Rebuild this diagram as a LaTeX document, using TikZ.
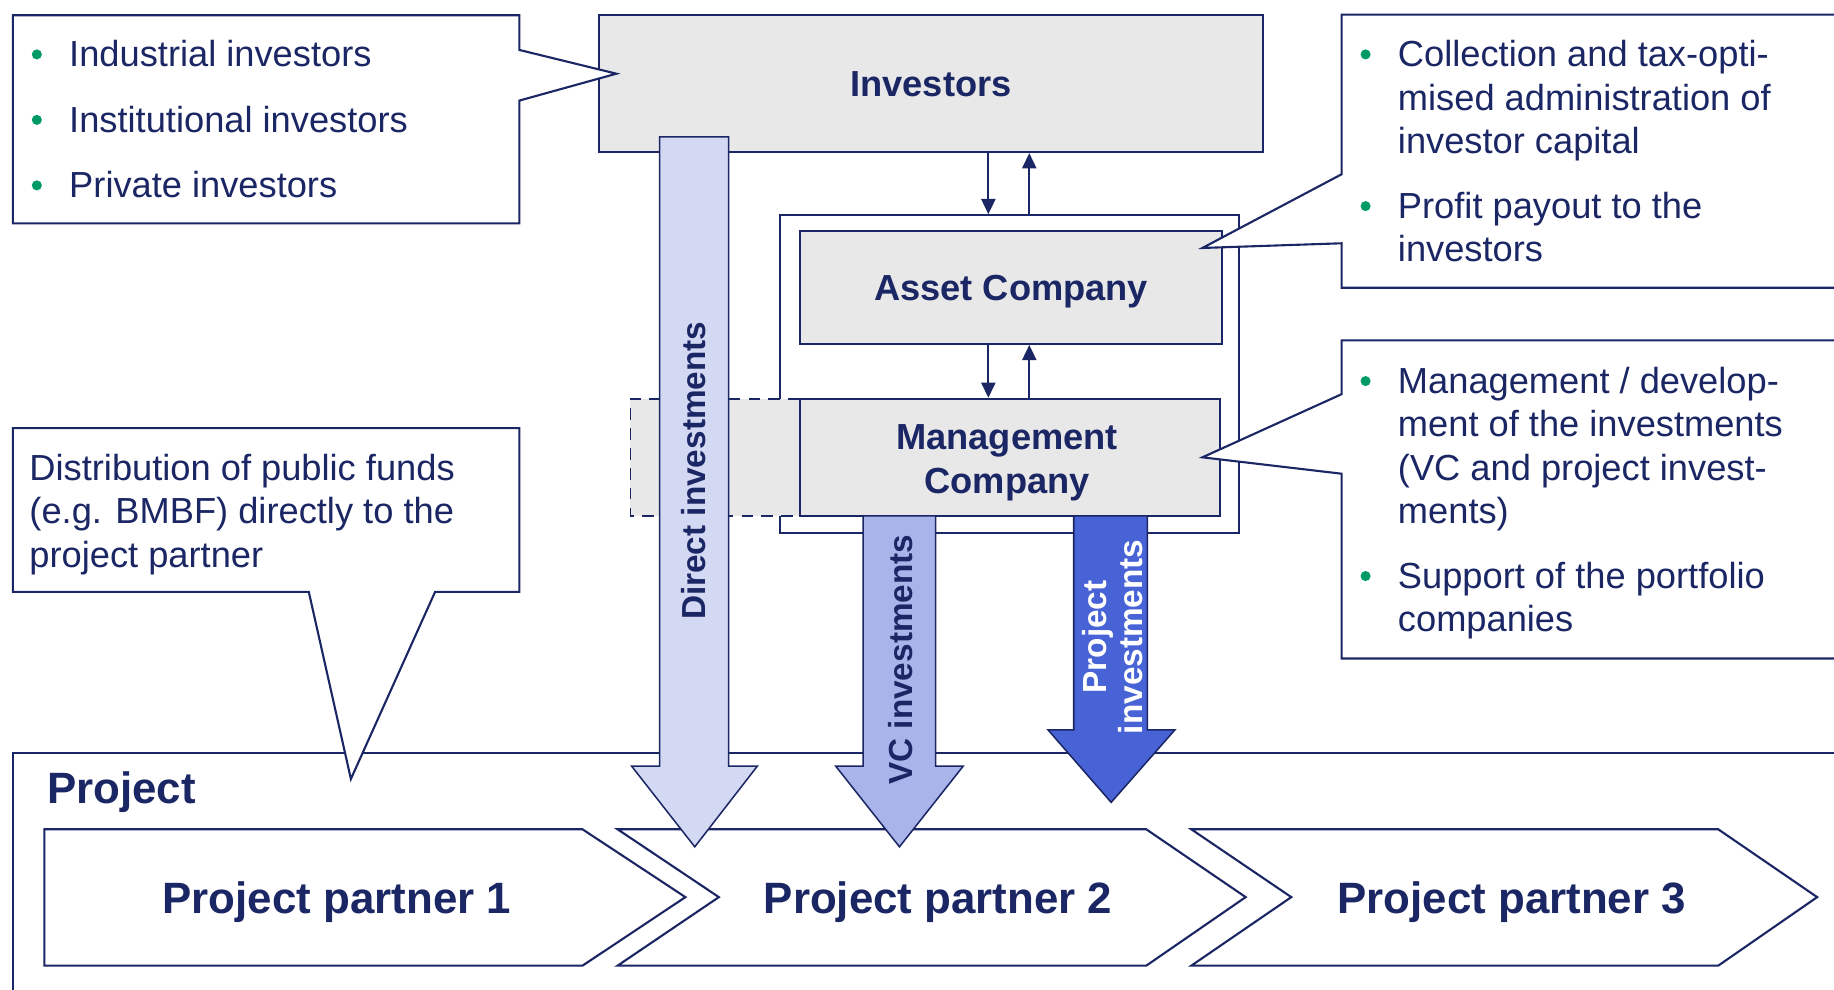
\documentclass[tikz,border=0pt]{standalone}
\usepackage{fontspec}
\setmainfont{Liberation Sans}
\usetikzlibrary{arrows.meta}
\definecolor{navy}{HTML}{1B2664}
\definecolor{boxgray}{HTML}{E8E8E8}
\definecolor{directc}{HTML}{D3D9F3}
\definecolor{vcc}{HTML}{A9B5EA}
\definecolor{projc}{HTML}{4863D5}
\definecolor{bulletc}{HTML}{009A66}
\newcommand{\lftlines}[1]{\vtop{\hsize=500pt\parindent=0pt\raggedright\noindent #1\par}}
\newcommand{\ctrlines}[1]{\vtop{\hsize=300pt\parindent=0pt\centering #1\par}}
\tikzset{
  ln/.style={draw=navy, line width=1.8pt},
  dashln/.style={draw=navy, line width=1.6pt, dash pattern=on 10pt off 7pt},
  graybox/.style={ln, fill=boxgray, rectangle, inner sep=0pt, text depth=0pt, text=navy,
    font=\bfseries\fontsize{31}{37.5}\selectfont},
  boldlbl/.style={inner sep=0pt, text=navy, font=\bfseries\fontsize{31}{37.8}\selectfont},
  bigtxt/.style={inner sep=0pt, text=navy, font=\bfseries\fontsize{37.5}{45}\selectfont},
  arrtxt/.style={inner sep=0pt, text=navy, font=\bfseries\fontsize{28.5}{31}\selectfont},
  body/.style={inner sep=0pt, text=navy, anchor=base west, font=\fontsize{31}{37.2}\selectfont},
  bigar/.style={draw=navy, line width=1.3pt, line join=miter},
  sarr/.style={draw=navy, line width=1.8pt, -{Triangle[length=13pt,width=12pt]}},
  bul/.style={fill=bulletc},
}
\begin{document}
\begin{tikzpicture}[x=1pt,y=-1pt, line join=miter]
\useasboundingbox (0,0) rectangle (1568,846);
\clip (0,0) rectangle (1568,846);

% Project frame
\draw[ln] (1572,643.5) -- (11,643.5) -- (11,850);
\node[bigtxt, anchor=base west] (projlbl) at (40,687) {Project};

% Chevrons
\draw[ln, fill=white] (38,709) -- (498,709) -- (586,767) -- (498,825.6) -- (38,825.6) -- cycle;
\draw[ln, fill=white] (528,709) -- (980,709) -- (1065,767) -- (980,825.6) -- (528,825.6) -- (614.6,767) -- cycle;
\draw[ln, fill=white] (1018.5,709) -- (1469,709) -- (1553.6,767) -- (1469,825.6) -- (1018.5,825.6) -- (1104,767) -- cycle;
\node[bigtxt, anchor=base] (pp1) at (288,781) {Project partner 1};
\node[bigtxt, anchor=base] (pp2) at (802,781) {Project partner 2};
\node[bigtxt, anchor=base] (pp3) at (1292.5,781) {Project partner 3};

% Investors and companies
\node[graybox, minimum width=568pt, minimum height=117pt] (inv) at (796,71.5) {Investors};
\node[ln, fill=white, rectangle, inner sep=0pt, minimum width=392pt, minimum height=271.5pt] (cont) at (863,319.75) {};
\fill[boxgray] (539,341) rectangle (684,441);
\draw[dashln] (684,341) -- (539,341) -- (539,441) -- (684,441);
\node[graybox, minimum width=361pt, minimum height=96.5pt] (asset) at (864.5,245.75) {Asset Company};
\node[graybox, minimum width=359pt, minimum height=100pt] (mgmt) at (863.5,391) {};
\node[boldlbl, anchor=base] (mgmtT) at (861,384) {\ctrlines{Management\\Company}};

% small arrows
\coordinate (cdn) at (845,0);
\coordinate (cup) at (880,0);
\draw[sarr] (cdn |- inv.south) -- (cdn |- cont.north);
\draw[sarr] (cup |- cont.north) -- (cup |- inv.south);
\draw[sarr] (cdn |- asset.south) -- (cdn |- mgmt.north);
\draw[sarr] (cup |- mgmt.north) -- (cup |- asset.south);

% big arrows
\draw[bigar, fill=directc] (564,117) -- (623,117) -- (623,655) -- (647.5,655) -- (594,724) -- (540,655) -- (564,655) -- cycle;
\node[arrtxt, rotate=90, anchor=base] (dtxt) at (603.5,402.5) {Direct investments};
\draw[bigar, fill=vcc] (738,441) -- (800,441) -- (800,655) -- (823.5,655) -- (769,724) -- (714.5,655) -- (738,655) -- cycle;
\node[arrtxt, rotate=90, anchor=base] (vtxt) at (780,564) {VC investments};
\draw[bigar, fill=projc] (918,441) -- (981,441) -- (981,624) -- (1004.5,624) -- (950,686) -- (896,624) -- (918,624) -- cycle;
\node[arrtxt, text=white, rotate=90, anchor=base] (ptxt) at (946,544.5) {\ctrlines{Project\\investments}};

% callouts
\draw[ln, fill=white] (11,13) -- (444,13) -- (444,42.7) -- (527,63) -- (444,86) -- (444,191) -- (11,191) -- cycle;
\draw[ln, fill=white] (1147,149) -- (1147,12.5) -- (1580,12.5) -- (1580,246) -- (1147,246) -- (1147,208) -- (1028,212) -- cycle;
\draw[ln, fill=white] (1147,337) -- (1147,291) -- (1580,291) -- (1580,563) -- (1147,563) -- (1147,405) -- (1028,391) -- cycle;
\draw[ln, fill=white] (11,366) -- (444,366) -- (444,506) -- (372,506) -- (300,666) -- (264,506) -- (11,506) -- cycle;

% callout texts
\fill[bul] (31.5,46.5) circle[radius=4.3pt];
\fill[bul] (31.5,102.5) circle[radius=4.3pt];
\fill[bul] (31.5,158.5) circle[radius=4.3pt];
\node[body] (lt1) at (59,57) {Industrial investors};
\node[body] (lt2) at (59,113) {Institutional investors};
\node[body] (lt3) at (59,169) {Private investors};

\fill[bul] (1167.5,46.5) circle[radius=4.3pt];
\fill[bul] (1167.5,176.2) circle[radius=4.3pt];
\node[body] (rt1) at (1195,57) {\lftlines{Collection and tax-opti-\\mised administration of\\investor capital}};
\node[body] (rt2) at (1195,186.7) {\lftlines{Profit payout to the\\investors}};

\fill[bul] (1167.5,325.8) circle[radius=4.3pt];
\fill[bul] (1167.5,492.5) circle[radius=4.3pt];
\node[body] (rm1) at (1195,336.3) {\lftlines{Management / develop-\\ment of the investments\\(VC and project invest-\\ments)}};
\node[body] (rm2) at (1195,503) {\lftlines{Support of the portfolio\\companies}};

\node[body] (lm) at (25,410.4) {\lftlines{Distribution of public funds\\(e.g. BMBF) directly to the\\project partner}};
\end{tikzpicture}
\end{document}
